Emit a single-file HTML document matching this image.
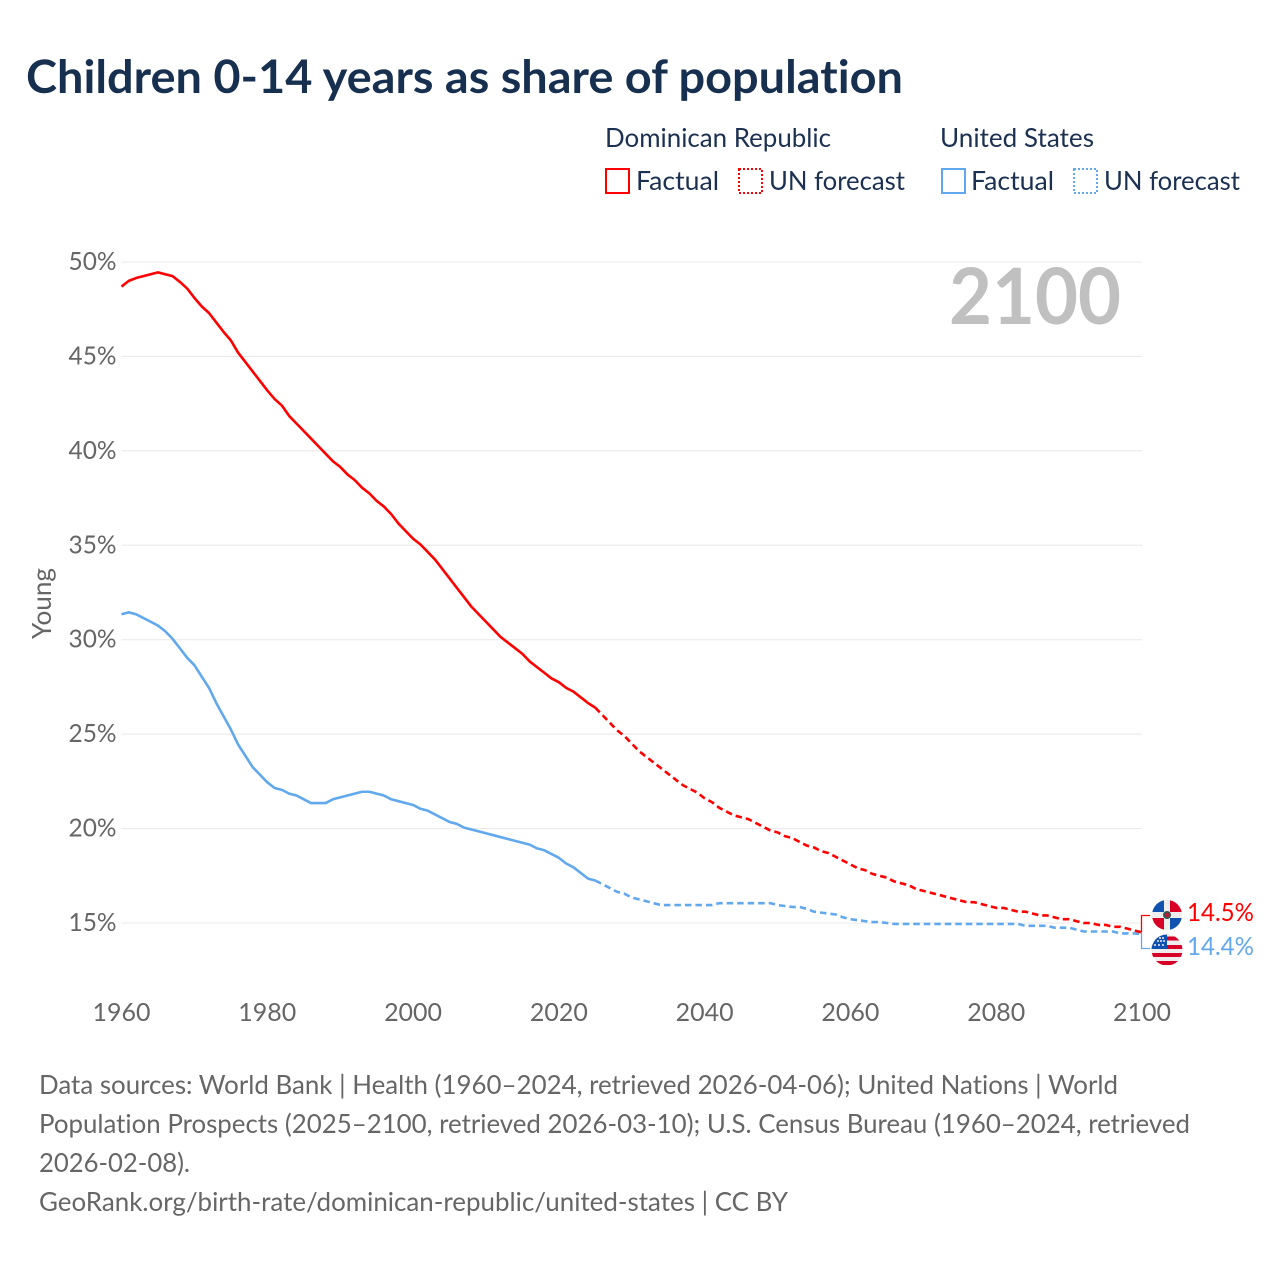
<!DOCTYPE html>
<html lang="en">
<head>
<meta charset="utf-8">
<title>Children 0-14 years as share of population</title>
<style>
html,body{margin:0;padding:0;background:#fff;width:1280px;height:1280px;overflow:hidden}
svg{display:block}
text{font-family:"Lato","Liberation Sans",sans-serif;font-variant-ligatures:none}
</style>
</head>
<body>
<svg id="chart" width="1280" height="1280" viewBox="0 0 1280 1280" xmlns="http://www.w3.org/2000/svg">
  <text x="26" y="93" font-size="46" font-weight="700" fill="#18304f" textLength="877" lengthAdjust="spacingAndGlyphs">Children 0-14 years as share of population</text>

  <g font-size="26" fill="#1c3152">
    <text x="605" y="147" textLength="226" lengthAdjust="spacingAndGlyphs">Dominican Republic</text>
    <text x="940" y="147" textLength="154" lengthAdjust="spacingAndGlyphs">United States</text>
    <rect x="606" y="169" width="23" height="24" fill="none" stroke="#ff0000" stroke-width="2"/>
    <text x="636" y="190" textLength="83" lengthAdjust="spacingAndGlyphs">Factual</text>
    <rect x="739" y="169" width="23" height="24" fill="none" stroke="#ff0000" stroke-width="2" stroke-dasharray="2 2"/>
    <text x="769" y="190" textLength="136" lengthAdjust="spacingAndGlyphs">UN forecast</text>
    <rect x="942" y="169" width="23" height="24" fill="none" stroke="#62a8ec" stroke-width="2"/>
    <text x="971" y="190" textLength="83" lengthAdjust="spacingAndGlyphs">Factual</text>
    <rect x="1074" y="169" width="23" height="24" fill="none" stroke="#62a8ec" stroke-width="2" stroke-dasharray="2 2"/>
    <text x="1104" y="190" textLength="136" lengthAdjust="spacingAndGlyphs">UN forecast</text>
  </g>

  <g id="grid"></g>
  <g id="yticks"></g>
  <g id="xticks"></g>

  <text transform="translate(51,639) rotate(-90)" font-size="26" fill="#666666" textLength="71" lengthAdjust="spacingAndGlyphs">Young</text>
  <text x="949" y="324" font-size="78" font-weight="700" fill="#c0c0c0" textLength="172" lengthAdjust="spacingAndGlyphs">2100</text>

  <g id="series"></g>

  <path d="M1141.500 932V915.500H1150" fill="none" stroke="#ff0000" stroke-width="1.300"/>
  <path d="M1141.500 932V948.500H1150" fill="none" stroke="#62a8ec" stroke-width="1.300"/>

  <defs>
    <clipPath id="clip-dr"><circle cx="1167" cy="915" r="15"/></clipPath>
    <clipPath id="clip-us"><circle cx="1167" cy="950" r="15.500"/></clipPath>
  </defs>
  <g clip-path="url(#clip-dr)">
    <rect x="1152" y="900" width="30" height="30" fill="#eeeeee"/>
    <rect x="1152" y="900" width="12" height="12" fill="#0f52b0"/>
    <rect x="1170" y="918" width="12" height="12" fill="#0f52b0"/>
    <rect x="1170" y="900" width="12" height="12" fill="#d80027"/>
    <rect x="1152" y="918" width="12" height="12" fill="#d80027"/>
    <circle cx="1167" cy="915" r="4" fill="#2f5a50"/>
    <circle cx="1167" cy="915" r="2.300" fill="#c01838"/>
  </g>
  <g clip-path="url(#clip-us)">
    <rect x="1151" y="934" width="32" height="32" fill="#eeeeee"/>
    <rect x="1151" y="936.500" width="32" height="4" fill="#d80027"/>
    <rect x="1151" y="945" width="32" height="4" fill="#d80027"/>
    <rect x="1151" y="953" width="32" height="4" fill="#d80027"/>
    <rect x="1151" y="961" width="32" height="4" fill="#d80027"/>
    <rect x="1151" y="934" width="16" height="15" fill="#0f52b0"/>
    <circle cx="1159" cy="945" r="1" fill="#eee"/><circle cx="1163" cy="945" r="1" fill="#eee"/><circle cx="1155" cy="945" r="1" fill="#eee"/>
    <circle cx="1161" cy="941" r="1" fill="#eee"/><circle cx="1164" cy="941" r="1" fill="#eee"/><circle cx="1158" cy="941" r="1" fill="#eee"/>
    <circle cx="1163" cy="938" r="1" fill="#eee"/><circle cx="1160" cy="938" r="1" fill="#eee"/>
  </g>
  <text x="1187" y="921" font-size="25" fill="#ff0000" textLength="67" lengthAdjust="spacingAndGlyphs">14.5%</text>
  <text x="1187" y="955" font-size="25" fill="#62a8ec" textLength="67" lengthAdjust="spacingAndGlyphs">14.4%</text>

  <g font-size="26" fill="#666666">
    <text x="39" y="1094" textLength="1079" lengthAdjust="spacingAndGlyphs">Data sources: World Bank | Health (1960–2024, retrieved 2026-04-06); United Nations | World</text>
    <text x="39" y="1133" textLength="1151" lengthAdjust="spacingAndGlyphs">Population Prospects (2025–2100, retrieved 2026-03-10); U.S. Census Bureau (1960–2024, retrieved</text>
    <text x="39" y="1172" textLength="151" lengthAdjust="spacingAndGlyphs">2026-02-08).</text>
    <text x="39" y="1211" textLength="749" lengthAdjust="spacingAndGlyphs">GeoRank.org/birth-rate/dominican-republic/united-states | CC BY</text>
  </g>
</svg>
<script>
const yTicks = [15, 20, 25, 30, 35, 40, 45, 50];
const xTicks = [1960, 1980, 2000, 2020, 2040, 2060, 2080, 2100];
const factualStartYear = 1960;
const forecastStartYear = 2025;
const drFactual = [48.7,49.0,49.15,49.25,49.35,49.45,49.35,49.25,48.95,48.6,48.1,47.65,47.3,46.8,46.3,45.85,45.2,44.7,44.2,43.7,43.2,42.75,42.4,41.85,41.45,41.05,40.65,40.25,39.85,39.45,39.15,38.75,38.45,38.05,37.75,37.35,37.05,36.65,36.15,35.75,35.35,35.05,34.65,34.25,33.75,33.25,32.75,32.25,31.75,31.35,30.95,30.55,30.15,29.85,29.55,29.25,28.85,28.55,28.25,27.95,27.75,27.45,27.25,26.95,26.65,26.4];
const drForecast = [26.4,26.0,25.6,25.2,24.9,24.5,24.1,23.8,23.5,23.2,22.9,22.6,22.3,22.1,21.9,21.6,21.4,21.1,20.9,20.7,20.6,20.5,20.3,20.1,19.9,19.8,19.6,19.5,19.3,19.1,19.0,18.8,18.7,18.5,18.3,18.1,17.9,17.8,17.6,17.5,17.4,17.2,17.1,17.0,16.8,16.7,16.6,16.5,16.4,16.3,16.2,16.1,16.1,16.0,15.9,15.8,15.8,15.7,15.6,15.6,15.5,15.4,15.4,15.3,15.2,15.2,15.1,15.0,15.0,14.9,14.9,14.8,14.8,14.7,14.6,14.5];
const usFactual = [31.35,31.45,31.35,31.15,30.95,30.75,30.45,30.05,29.55,29.05,28.65,28.05,27.45,26.65,25.95,25.25,24.45,23.85,23.25,22.85,22.45,22.15,22.05,21.85,21.75,21.55,21.35,21.35,21.35,21.55,21.65,21.75,21.85,21.95,21.95,21.85,21.75,21.55,21.45,21.35,21.25,21.05,20.95,20.75,20.55,20.35,20.25,20.05,19.95,19.85,19.75,19.65,19.55,19.45,19.35,19.25,19.15,18.95,18.85,18.65,18.45,18.15,17.95,17.65,17.35,17.25];
const usForecast = [17.25,17.05,16.85,16.65,16.55,16.35,16.25,16.15,16.05,15.95,15.95,15.95,15.95,15.95,15.95,15.95,15.95,16.05,16.05,16.05,16.05,16.05,16.05,16.05,16.05,15.95,15.9,15.85,15.85,15.75,15.6,15.55,15.5,15.45,15.3,15.2,15.15,15.1,15.05,15.05,15.0,14.95,14.95,14.95,14.95,14.95,14.95,14.95,14.95,14.95,14.95,14.95,14.95,14.95,14.95,14.95,14.95,14.95,14.95,14.85,14.85,14.85,14.85,14.75,14.75,14.75,14.65,14.55,14.55,14.55,14.55,14.55,14.45,14.45,14.45,14.4];

const NS = 'http://www.w3.org/2000/svg';
function xScale(year) { return 121.500 + (year - 1960) * (1142 - 121.500) / 140; }
function yScale(pct) { return 923 - (pct - 15) * (923 - 262) / 35; }
function make(tag, attrs, parent) {
  const el = document.createElementNS(NS, tag);
  for (const k in attrs) el.setAttribute(k, attrs[k]);
  parent.appendChild(el);
  return el;
}
const gridGroup = document.getElementById('grid');
const yGroup = document.getElementById('yticks');
const xGroup = document.getElementById('xticks');
const seriesGroup = document.getElementById('series');

yTicks.forEach(function (t) {
  const line = make('line', { x1: 121.500, x2: 1142, y1: yScale(t), y2: yScale(t), stroke: '#e8e8e8', 'stroke-width': 1 }, gridGroup);
  
  
  const label = make('text', { x: 68.500, y: yScale(t) + 8, 'font-size': 25, fill: '#666666', textLength: 48, lengthAdjust: 'spacingAndGlyphs' }, yGroup);
  
  
  label.textContent = t + '%';
});
xTicks.forEach(function (t) {
  const label = make('text', { x: xScale(t) - 29, y: 1021, 'font-size': 25, fill: '#666666', textLength: 58, lengthAdjust: 'spacingAndGlyphs' }, xGroup);
  
  
  label.textContent = t;
});
function drawLine(values, startYear, color, dash) {
  const d = values.map(function (v, i) {
    return (i ? 'L' : 'M') + xScale(startYear + i).toFixed(2) + ' ' + yScale(v).toFixed(2);
  }).join('');
  const attrs = { d: d, fill: 'none', stroke: color, 'stroke-width': 2.6, 'stroke-linejoin': 'round' };
  if (dash) attrs['stroke-dasharray'] = dash;
  return make('path', attrs, seriesGroup);
}
const l1 = drawLine(usFactual, factualStartYear, '#62a8ec');


const l2 = drawLine(usForecast, forecastStartYear, '#62a8ec', '6.500 4');


const l3 = drawLine(drFactual, factualStartYear, '#ff0000');


const l4 = drawLine(drForecast, forecastStartYear, '#ff0000', '6.500 4');


</script>
</body>
</html>
